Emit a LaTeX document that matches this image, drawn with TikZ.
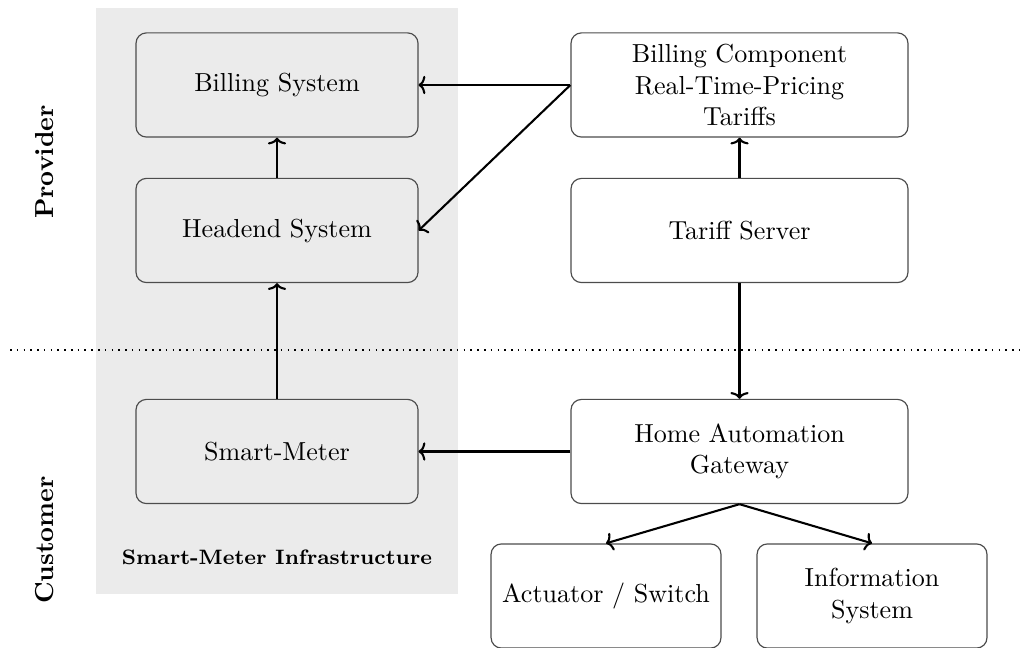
\documentclass[tikz,border=0pt]{standalone}
\usetikzlibrary{arrows.meta}
\begin{document}
\begin{tikzpicture}[x=0.384pt,y=-0.384pt,
  box/.style={draw=black!70, line width=0.45pt, rounded corners=4pt, align=center, inner sep=0pt},
  lbox/.style={box, minimum width=108.3pt, minimum height=40pt},
  rbox/.style={box, minimum width=129.4pt, minimum height=40pt},
  sbox/.style={box, minimum width=88.3pt, minimum height=40pt},
  conn/.style={-{To[length=2.6pt,width=7pt]}, line width=0.8pt},
  side/.style={font=\bfseries, rotate=90}]
\useasboundingbox (0,0) rectangle (1025,648);
\fill[black!8] (96,8) rectangle (458,594);
\draw[dotted, line width=0.6pt] (10,350) -- (1025,350);
\node[lbox] (bill) at (277,85) {Billing System};
\node[lbox] (head) at (277,230.5) {Headend System};
\node[lbox] (sm) at (277,451.5) {Smart-Meter};
\node[rbox] (bc) at (739.5,85) {Billing Component\\Real-Time-Pricing\\Tariffs};
\node[rbox] (ts) at (739.5,230.5) {Tariff Server};
\node[rbox] (hag) at (739.5,451.5) {Home Automation\\Gateway};
\node[sbox] (act) at (606,596) {Actuator / Switch};
\node[sbox] (info) at (872,596) {Information\\System};
\node[side] (prov) at (45,162) {Provider};
\node[side] (cust) at (45,540) {Customer};
\node[font=\footnotesize\bfseries] (smi) at (277,557) {Smart-Meter Infrastructure};
\draw[conn] (head) -- (bill);
\draw[conn] (sm) -- (head);
\draw[conn] (bc.west) -- (bill.east);
\draw[conn] (bc.west) -- (head.east);
\draw[conn] (ts) -- (bc);
\draw[conn] (ts) -- (hag);
\draw[conn] (hag.west) -- (sm.east);
\draw[conn] (hag.south) -- (act.north);
\draw[conn] (hag.south) -- (info.north);
\end{tikzpicture}
\end{document}
